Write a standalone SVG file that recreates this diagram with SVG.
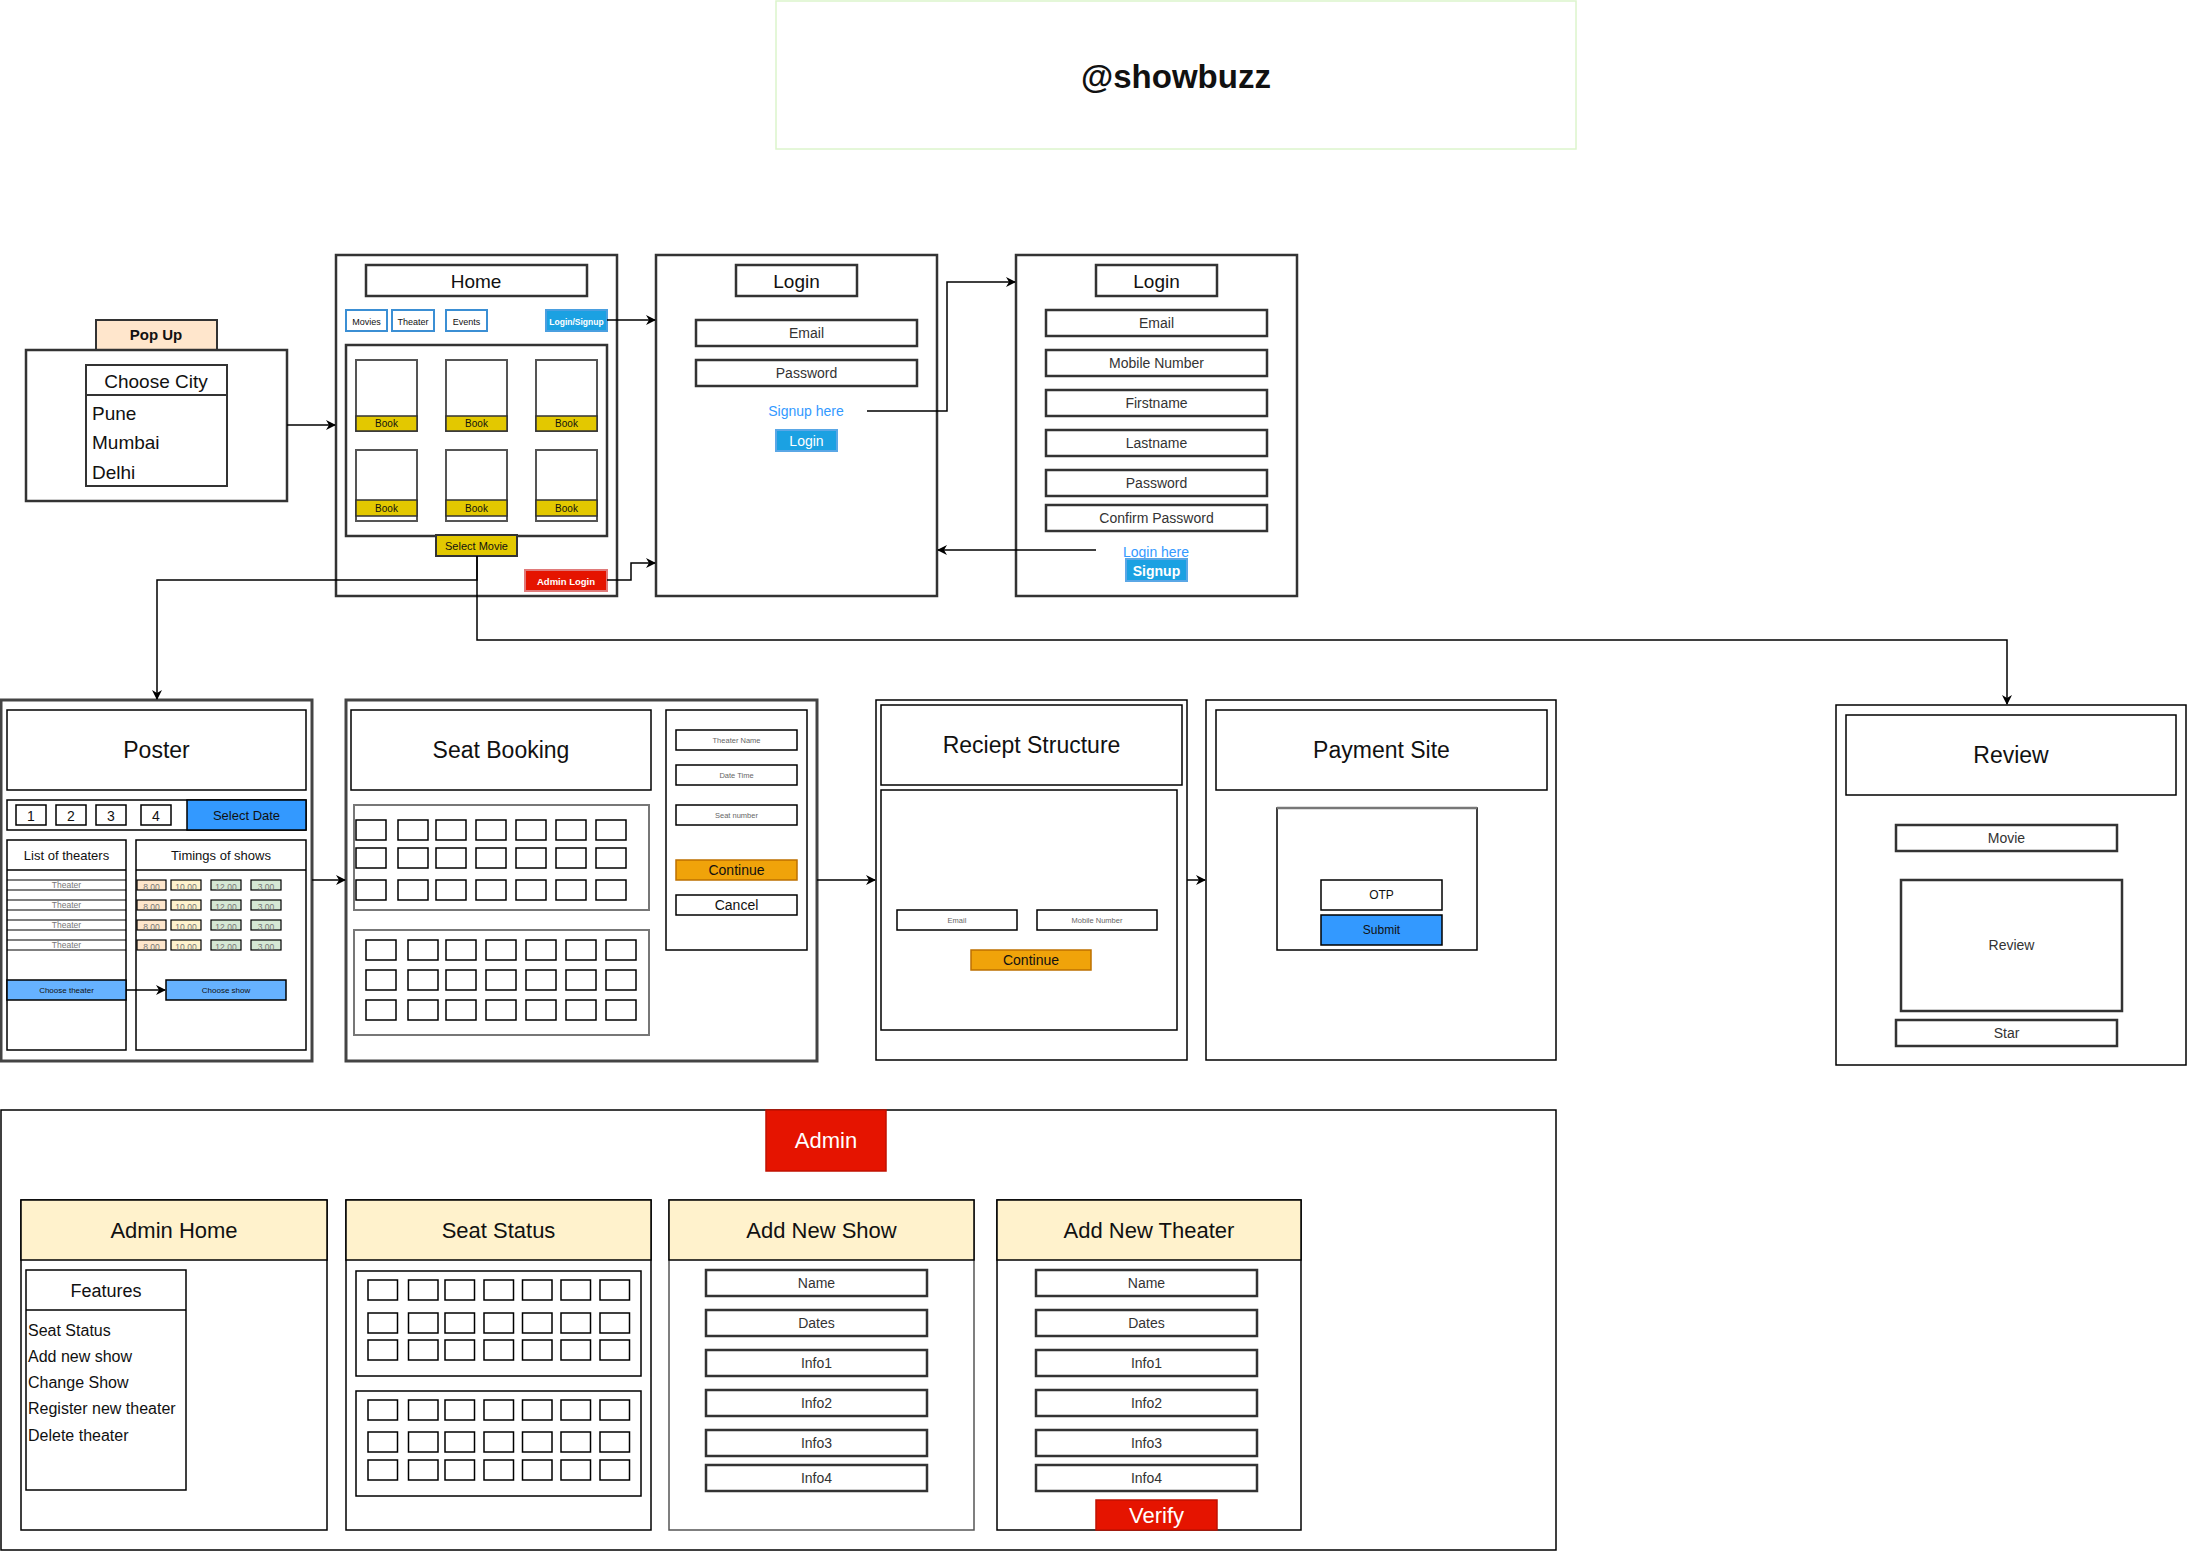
<svg xmlns="http://www.w3.org/2000/svg" width="2187" height="1552" viewBox="0 0 2187 1552">
<defs>
<marker id="arr" viewBox="0 0 10 10" refX="9" refY="5" markerWidth="10" markerHeight="10" markerUnits="userSpaceOnUse" orient="auto">
<path d="M0,0 L10,5 L0,10 L3,5 z" fill="#000"/>
</marker>
<style>
text{font-family:"Liberation Sans",Arial,sans-serif;text-anchor:middle;fill:#111}
.frame{fill:#fff;stroke:#333;stroke-width:2.5}
.thin{fill:#fff;stroke:#000;stroke-width:1.5}
.fld{fill:#fff;stroke:#333;stroke-width:2.5}
.seat{fill:#fff;stroke:#000;stroke-width:1.5}
.grp{fill:#fff;stroke:#777;stroke-width:2}
.conn{fill:none;stroke:#000;stroke-width:1.5}
.hdr{fill:#fff2cc;stroke:#000;stroke-width:1.5}
.book{fill:#e3c800;stroke:#333;stroke-width:1.5}
.nav{fill:#fff;stroke:#3b8fd4;stroke-width:2}
.orange{fill:#f0a30a;stroke:#bd7000;stroke-width:1.5}
.lb{fill:#66b2ff;stroke:#000;stroke-width:1.5}
.red{fill:#e51400;stroke:#c01000;stroke-width:1.5}
.t14{font-size:14px;fill:#333}
.t23{font-size:23px}
.t22{font-size:22px}
.tiny{font-size:7.5px;fill:#666}
.tm{font-size:8.5px;fill:#777}
.link{font-size:14px;fill:#3399ff}
.w{fill:#fff}
</style>
</defs>
<rect width="2187" height="1552" fill="#fff"/>

<g id="title">
<rect x="776" y="1" width="800" height="148" fill="#fff" stroke="#dcf5cc" stroke-width="1.5"/>
<text x="1176" y="88" font-size="33" font-weight="bold" fill="#000">@showbuzz</text>
</g>

<g id="popup">
<rect x="96" y="320" width="121" height="30" fill="#ffe6cc" stroke="#333" stroke-width="2"/>
<text x="156" y="340" font-size="15" font-weight="bold">Pop Up</text>
<rect class="frame" x="26" y="350" width="261" height="151"/>
<rect x="86" y="365" width="141" height="121" fill="#fff" stroke="#333" stroke-width="2"/>
<line x1="86" y1="395" x2="227" y2="395" stroke="#333" stroke-width="2"/>
<text x="156" y="388" font-size="19" fill="#222">Choose City</text>
<text x="92" y="420" font-size="19" style="text-anchor:start">Pune</text>
<text x="92" y="449" font-size="19" style="text-anchor:start">Mumbai</text>
<text x="92" y="479" font-size="19" style="text-anchor:start">Delhi</text>
</g>

<g id="home">
<rect class="frame" x="336" y="255" width="281" height="341"/>
<rect class="fld" x="366" y="265" width="221" height="31"/>
<text x="476" y="288" font-size="19">Home</text>
<rect class="nav" x="346" y="310" width="41" height="21"/>
<text x="366.5" y="325" font-size="9" fill="#333">Movies</text>
<rect class="nav" x="392" y="310" width="42" height="21"/>
<text x="413" y="325" font-size="9" fill="#333">Theater</text>
<rect class="nav" x="446" y="310" width="41" height="21"/>
<text x="466.5" y="325" font-size="9" fill="#333">Events</text>
<rect x="546" y="310" width="61" height="21" fill="#1ba1e2" stroke="#4a9fe0" stroke-width="2"/>
<text x="576.5" y="325" font-size="8.5" font-weight="bold" class="w">Login/Signup</text>
<rect class="fld" x="346" y="345" width="261" height="191"/>
<g id="cards">
<rect x="356" y="360" width="61" height="71" fill="#fff" stroke="#555" stroke-width="2"/>
<rect class="book" x="356" y="416" width="61" height="15"/><text x="386.5" y="427" font-size="10">Book</text>
<rect x="446" y="360" width="61" height="71" fill="#fff" stroke="#555" stroke-width="2"/>
<rect class="book" x="446" y="416" width="61" height="15"/><text x="476.5" y="427" font-size="10">Book</text>
<rect x="536" y="360" width="61" height="71" fill="#fff" stroke="#555" stroke-width="2"/>
<rect class="book" x="536" y="416" width="61" height="15"/><text x="566.5" y="427" font-size="10">Book</text>
<rect x="356" y="450" width="61" height="71" fill="#fff" stroke="#555" stroke-width="2"/>
<rect class="book" x="356" y="500" width="61" height="16"/><text x="386.5" y="512" font-size="10">Book</text>
<rect x="446" y="450" width="61" height="71" fill="#fff" stroke="#555" stroke-width="2"/>
<rect class="book" x="446" y="500" width="61" height="16"/><text x="476.5" y="512" font-size="10">Book</text>
<rect x="536" y="450" width="61" height="71" fill="#fff" stroke="#555" stroke-width="2"/>
<rect class="book" x="536" y="500" width="61" height="16"/><text x="566.5" y="512" font-size="10">Book</text>
</g>
<rect x="436" y="535" width="81" height="21" fill="#e3c800" stroke="#333" stroke-width="2"/>
<text x="476.5" y="549.5" font-size="11">Select Movie</text>
<rect x="525" y="570" width="82" height="21" fill="#e51400" stroke="#e07a7a" stroke-width="2"/>
<text x="566" y="585" font-size="9.5" font-weight="bold" class="w">Admin Login</text>
</g>

<g id="login">
<rect class="frame" x="656" y="255" width="281" height="341"/>
<rect class="fld" x="736" y="265" width="121" height="31"/>
<text x="796.5" y="288" font-size="19">Login</text>
<rect class="fld" x="696" y="320" width="221" height="26"/>
<text class="t14" x="806.5" y="338">Email</text>
<rect class="fld" x="696" y="360" width="221" height="26"/>
<text class="t14" x="806.5" y="378">Password</text>
<text class="link" x="806" y="416">Signup here</text>
<rect x="776" y="430" width="61" height="21" fill="#1ba1e2" stroke="#5aa7e6" stroke-width="2"/>
<text x="806.5" y="446" font-size="14" class="w">Login</text>
</g>

<g id="signup">
<rect class="frame" x="1016" y="255" width="281" height="341"/>
<rect class="fld" x="1096" y="265" width="121" height="31"/>
<text x="1156.5" y="288" font-size="19">Login</text>
<rect class="fld" x="1046" y="310" width="221" height="26"/>
<text class="t14" x="1156.5" y="328">Email</text>
<rect class="fld" x="1046" y="350" width="221" height="26"/>
<text class="t14" x="1156.5" y="368">Mobile Number</text>
<rect class="fld" x="1046" y="390" width="221" height="26"/>
<text class="t14" x="1156.5" y="408">Firstname</text>
<rect class="fld" x="1046" y="430" width="221" height="26"/>
<text class="t14" x="1156.5" y="448">Lastname</text>
<rect class="fld" x="1046" y="470" width="221" height="26"/>
<text class="t14" x="1156.5" y="488">Password</text>
<rect class="fld" x="1046" y="505" width="221" height="26"/>
<text class="t14" x="1156.5" y="523">Confirm Password</text>
<text class="link" x="1156" y="557">Login here</text>
<rect x="1126" y="559" width="61" height="22" fill="#1ba1e2" stroke="#5aa7e6" stroke-width="2"/>
<text x="1156.5" y="576" font-size="14" font-weight="bold" class="w">Signup</text>
</g>

<g id="poster">
<rect x="1" y="700" width="311" height="361" fill="#fff" stroke="#444" stroke-width="3"/>
<rect class="thin" x="7" y="710" width="299" height="80"/>
<text class="t23" x="156.5" y="758">Poster</text>
<rect class="thin" x="7" y="800" width="299" height="30"/>
<rect class="thin" x="16" y="805" width="30" height="20"/><text x="31" y="821" font-size="14" fill="#333">1</text>
<rect class="thin" x="56" y="805" width="30" height="20"/><text x="71" y="821" font-size="14" fill="#333">2</text>
<rect class="thin" x="96" y="805" width="30" height="20"/><text x="111" y="821" font-size="14" fill="#333">3</text>
<rect class="thin" x="141" y="805" width="30" height="20"/><text x="156" y="821" font-size="14" fill="#333">4</text>
<rect x="187" y="800" width="119" height="30" fill="#3399ff" stroke="#000" stroke-width="1.5"/>
<text x="246.5" y="820" font-size="13" fill="#222">Select Date</text>
<rect class="thin" x="7" y="840" width="119" height="210"/>
<line x1="7" y1="870" x2="126" y2="870" stroke="#000" stroke-width="1.5"/>
<text x="66.5" y="860" font-size="13" fill="#333">List of theaters</text>
<g stroke="#000" stroke-width="1.2">
<line x1="7" y1="880" x2="126" y2="880"/><line x1="7" y1="890" x2="126" y2="890"/>
<line x1="7" y1="900" x2="126" y2="900"/><line x1="7" y1="910" x2="126" y2="910"/>
<line x1="7" y1="920" x2="126" y2="920"/><line x1="7" y1="930" x2="126" y2="930"/>
<line x1="7" y1="940" x2="126" y2="940"/><line x1="7" y1="950" x2="126" y2="950"/>
</g>
<text class="tm" x="66.5" y="888">Theater</text>
<text class="tm" x="66.5" y="908">Theater</text>
<text class="tm" x="66.5" y="928">Theater</text>
<text class="tm" x="66.5" y="948">Theater</text>
<rect class="lb" x="7" y="980" width="119" height="20"/>
<text x="66.5" y="993" font-size="8" fill="#333">Choose theater</text>
<rect class="thin" x="136" y="840" width="170" height="210"/>
<line x1="136" y1="870" x2="306" y2="870" stroke="#000" stroke-width="1.5"/>
<text x="221" y="860" font-size="13" fill="#333">Timings of shows</text>
<g stroke="#000" stroke-width="1.2">
<rect x="137" y="880" width="29" height="10" fill="#ffe6cc"/><rect x="171" y="880" width="30" height="10" fill="#fff2cc"/><rect x="211" y="880" width="30" height="10" fill="#d5e8d4"/><rect x="251" y="880" width="30" height="10" fill="#d5e8d4"/>
<rect x="137" y="900" width="29" height="10" fill="#ffe6cc"/><rect x="171" y="900" width="30" height="10" fill="#fff2cc"/><rect x="211" y="900" width="30" height="10" fill="#d5e8d4"/><rect x="251" y="900" width="30" height="10" fill="#d5e8d4"/>
<rect x="137" y="920" width="29" height="10" fill="#ffe6cc"/><rect x="171" y="920" width="30" height="10" fill="#fff2cc"/><rect x="211" y="920" width="30" height="10" fill="#d5e8d4"/><rect x="251" y="920" width="30" height="10" fill="#d5e8d4"/>
<rect x="137" y="940" width="29" height="10" fill="#ffe6cc"/><rect x="171" y="940" width="30" height="10" fill="#fff2cc"/><rect x="211" y="940" width="30" height="10" fill="#d5e8d4"/><rect x="251" y="940" width="30" height="10" fill="#d5e8d4"/>
</g>
<text class="tm" x="151.5" y="890">8.00</text><text class="tm" x="186" y="890">10.00</text><text class="tm" x="226" y="890">12.00</text><text class="tm" x="266" y="890">3.00</text>
<text class="tm" x="151.5" y="910">8.00</text><text class="tm" x="186" y="910">10.00</text><text class="tm" x="226" y="910">12.00</text><text class="tm" x="266" y="910">3.00</text>
<text class="tm" x="151.5" y="930">8.00</text><text class="tm" x="186" y="930">10.00</text><text class="tm" x="226" y="930">12.00</text><text class="tm" x="266" y="930">3.00</text>
<text class="tm" x="151.5" y="950">8.00</text><text class="tm" x="186" y="950">10.00</text><text class="tm" x="226" y="950">12.00</text><text class="tm" x="266" y="950">3.00</text>
<rect class="lb" x="166" y="980" width="120" height="20"/>
<text x="226" y="993" font-size="8" fill="#333">Choose show</text>
</g>

<g id="seat-booking">
<rect x="346" y="700" width="471" height="361" fill="#fff" stroke="#444" stroke-width="3"/>
<rect class="thin" x="351" y="710" width="300" height="80"/>
<text class="t23" x="501" y="758">Seat Booking</text>
<rect class="grp" x="354" y="805" width="295" height="105"/>
<g id="seats1">
<rect class="seat" x="356" y="820" width="30" height="20"/><rect class="seat" x="398" y="820" width="30" height="20"/><rect class="seat" x="436" y="820" width="30" height="20"/><rect class="seat" x="476" y="820" width="30" height="20"/><rect class="seat" x="516" y="820" width="30" height="20"/><rect class="seat" x="556" y="820" width="30" height="20"/><rect class="seat" x="596" y="820" width="30" height="20"/>
<rect class="seat" x="356" y="848" width="30" height="20"/><rect class="seat" x="398" y="848" width="30" height="20"/><rect class="seat" x="436" y="848" width="30" height="20"/><rect class="seat" x="476" y="848" width="30" height="20"/><rect class="seat" x="516" y="848" width="30" height="20"/><rect class="seat" x="556" y="848" width="30" height="20"/><rect class="seat" x="596" y="848" width="30" height="20"/>
<rect class="seat" x="356" y="880" width="30" height="20"/><rect class="seat" x="398" y="880" width="30" height="20"/><rect class="seat" x="436" y="880" width="30" height="20"/><rect class="seat" x="476" y="880" width="30" height="20"/><rect class="seat" x="516" y="880" width="30" height="20"/><rect class="seat" x="556" y="880" width="30" height="20"/><rect class="seat" x="596" y="880" width="30" height="20"/>
</g>
<rect class="grp" x="354" y="930" width="295" height="105"/>
<g id="seats2">
<rect class="seat" x="366" y="940" width="30" height="20"/><rect class="seat" x="408" y="940" width="30" height="20"/><rect class="seat" x="446" y="940" width="30" height="20"/><rect class="seat" x="486" y="940" width="30" height="20"/><rect class="seat" x="526" y="940" width="30" height="20"/><rect class="seat" x="566" y="940" width="30" height="20"/><rect class="seat" x="606" y="940" width="30" height="20"/>
<rect class="seat" x="366" y="970" width="30" height="20"/><rect class="seat" x="408" y="970" width="30" height="20"/><rect class="seat" x="446" y="970" width="30" height="20"/><rect class="seat" x="486" y="970" width="30" height="20"/><rect class="seat" x="526" y="970" width="30" height="20"/><rect class="seat" x="566" y="970" width="30" height="20"/><rect class="seat" x="606" y="970" width="30" height="20"/>
<rect class="seat" x="366" y="1000" width="30" height="20"/><rect class="seat" x="408" y="1000" width="30" height="20"/><rect class="seat" x="446" y="1000" width="30" height="20"/><rect class="seat" x="486" y="1000" width="30" height="20"/><rect class="seat" x="526" y="1000" width="30" height="20"/><rect class="seat" x="566" y="1000" width="30" height="20"/><rect class="seat" x="606" y="1000" width="30" height="20"/>
</g>
<rect class="thin" x="666" y="710" width="141" height="240"/>
<rect class="thin" x="676" y="730" width="121" height="20"/><text class="tiny" x="736.5" y="743">Theater Name</text>
<rect class="thin" x="676" y="765" width="121" height="20"/><text class="tiny" x="736.5" y="778">Date Time</text>
<rect class="thin" x="676" y="805" width="121" height="20"/><text class="tiny" x="736.5" y="818">Seat number</text>
<rect class="orange" x="676" y="860" width="121" height="20"/><text x="736.5" y="875" font-size="14" fill="#222">Continue</text>
<rect class="thin" x="676" y="895" width="121" height="20"/><text x="736.5" y="910" font-size="14" fill="#333">Cancel</text>
</g>

<g id="receipt">
<rect class="thin" x="876" y="700" width="311" height="360"/>
<rect class="thin" x="881" y="705" width="301" height="80"/>
<text class="t23" x="1031.5" y="753">Reciept Structure</text>
<rect class="thin" x="881" y="790" width="296" height="240"/>
<rect class="thin" x="897" y="910" width="120" height="20"/><text class="tiny" x="957" y="923">Email</text>
<rect class="thin" x="1037" y="910" width="120" height="20"/><text class="tiny" x="1097" y="923">Mobile Number</text>
<rect class="orange" x="971" y="950" width="120" height="20"/><text x="1031" y="965" font-size="14" fill="#222">Continue</text>
</g>

<g id="payment">
<rect class="thin" x="1206" y="700" width="350" height="360"/>
<rect class="thin" x="1216" y="710" width="331" height="80"/>
<text class="t23" x="1381.5" y="758">Payment Site</text>
<rect class="thin" x="1277" y="808" width="200" height="142"/>
<line x1="1277" y1="808" x2="1477" y2="808" stroke="#777" stroke-width="2.5"/>
<rect class="thin" x="1321" y="880" width="121" height="30"/><text x="1381.5" y="899" font-size="12" fill="#222">OTP</text>
<rect x="1321" y="915" width="121" height="30" fill="#3399ff" stroke="#000" stroke-width="1.5"/><text x="1381.5" y="934" font-size="12" fill="#111">Submit</text>
</g>

<g id="review">
<rect class="thin" x="1836" y="705" width="350" height="360"/>
<rect class="thin" x="1846" y="715" width="330" height="80"/>
<text class="t23" x="2011" y="763">Review</text>
<rect class="fld" x="1896" y="825" width="221" height="26"/><text class="t14" x="2006.5" y="843">Movie</text>
<rect class="fld" x="1901" y="880" width="221" height="131"/><text class="t14" x="2011.5" y="950">Review</text>
<rect class="fld" x="1896" y="1020" width="221" height="26"/><text class="t14" x="2006.5" y="1038">Star</text>
</g>

<g id="admin">
<rect class="thin" x="1" y="1110" width="1555" height="440"/>
<rect class="red" x="766" y="1110" width="120" height="61"/>
<text class="t22 w" x="826" y="1148">Admin</text>
</g>

<g id="admin-home">
<rect class="thin" x="21" y="1200" width="306" height="330"/>
<rect class="hdr" x="21" y="1200" width="306" height="60"/>
<text class="t22" x="174" y="1238">Admin Home</text>
<rect class="thin" x="26" y="1270" width="160" height="220"/>
<line x1="26" y1="1310" x2="186" y2="1310" stroke="#000" stroke-width="1.5"/>
<text x="106" y="1297" font-size="18" fill="#222">Features</text>
<g font-size="16" fill="#222">
<text x="28" y="1336" style="text-anchor:start">Seat Status</text>
<text x="28" y="1362" style="text-anchor:start">Add new show</text>
<text x="28" y="1388" style="text-anchor:start">Change Show</text>
<text x="28" y="1414" style="text-anchor:start">Register new theater</text>
<text x="28" y="1441" style="text-anchor:start">Delete theater</text>
</g>
</g>

<g id="seat-status">
<rect class="thin" x="346" y="1200" width="305" height="330"/>
<rect class="hdr" x="346" y="1200" width="305" height="60"/>
<text class="t22" x="498.5" y="1238">Seat Status</text>
<rect class="thin" x="356" y="1271" width="285" height="105"/>
<rect class="thin" x="356" y="1391" width="285" height="105"/>
<g id="status-seats">
<rect class="seat" x="368" y="1280" width="29.5" height="20"/><rect class="seat" x="408.5" y="1280" width="29.5" height="20"/><rect class="seat" x="445" y="1280" width="29.5" height="20"/><rect class="seat" x="484" y="1280" width="29.5" height="20"/><rect class="seat" x="522.5" y="1280" width="29.5" height="20"/><rect class="seat" x="561" y="1280" width="29.5" height="20"/><rect class="seat" x="600" y="1280" width="29.5" height="20"/>
<rect class="seat" x="368" y="1313" width="29.5" height="20"/><rect class="seat" x="408.5" y="1313" width="29.5" height="20"/><rect class="seat" x="445" y="1313" width="29.5" height="20"/><rect class="seat" x="484" y="1313" width="29.5" height="20"/><rect class="seat" x="522.5" y="1313" width="29.5" height="20"/><rect class="seat" x="561" y="1313" width="29.5" height="20"/><rect class="seat" x="600" y="1313" width="29.5" height="20"/>
<rect class="seat" x="368" y="1340" width="29.5" height="20"/><rect class="seat" x="408.5" y="1340" width="29.5" height="20"/><rect class="seat" x="445" y="1340" width="29.5" height="20"/><rect class="seat" x="484" y="1340" width="29.5" height="20"/><rect class="seat" x="522.5" y="1340" width="29.5" height="20"/><rect class="seat" x="561" y="1340" width="29.5" height="20"/><rect class="seat" x="600" y="1340" width="29.5" height="20"/>
<rect class="seat" x="368" y="1400" width="29.5" height="20"/><rect class="seat" x="408.5" y="1400" width="29.5" height="20"/><rect class="seat" x="445" y="1400" width="29.5" height="20"/><rect class="seat" x="484" y="1400" width="29.5" height="20"/><rect class="seat" x="522.5" y="1400" width="29.5" height="20"/><rect class="seat" x="561" y="1400" width="29.5" height="20"/><rect class="seat" x="600" y="1400" width="29.5" height="20"/>
<rect class="seat" x="368" y="1432" width="29.5" height="20"/><rect class="seat" x="408.5" y="1432" width="29.5" height="20"/><rect class="seat" x="445" y="1432" width="29.5" height="20"/><rect class="seat" x="484" y="1432" width="29.5" height="20"/><rect class="seat" x="522.5" y="1432" width="29.5" height="20"/><rect class="seat" x="561" y="1432" width="29.5" height="20"/><rect class="seat" x="600" y="1432" width="29.5" height="20"/>
<rect class="seat" x="368" y="1460" width="29.5" height="20"/><rect class="seat" x="408.5" y="1460" width="29.5" height="20"/><rect class="seat" x="445" y="1460" width="29.5" height="20"/><rect class="seat" x="484" y="1460" width="29.5" height="20"/><rect class="seat" x="522.5" y="1460" width="29.5" height="20"/><rect class="seat" x="561" y="1460" width="29.5" height="20"/><rect class="seat" x="600" y="1460" width="29.5" height="20"/>
</g>
</g>

<g id="add-new-show">
<rect x="669" y="1200" width="305" height="330" fill="#fff" stroke="#555" stroke-width="1.5"/>
<rect class="hdr" x="669" y="1200" width="305" height="60"/>
<text class="t22" x="821.5" y="1238">Add New Show</text>
<rect class="fld" x="706" y="1270" width="221" height="26"/><text class="t14" x="816.5" y="1288">Name</text>
<rect class="fld" x="706" y="1310" width="221" height="26"/><text class="t14" x="816.5" y="1328">Dates</text>
<rect class="fld" x="706" y="1350" width="221" height="26"/><text class="t14" x="816.5" y="1368">Info1</text>
<rect class="fld" x="706" y="1390" width="221" height="26"/><text class="t14" x="816.5" y="1408">Info2</text>
<rect class="fld" x="706" y="1430" width="221" height="26"/><text class="t14" x="816.5" y="1448">Info3</text>
<rect class="fld" x="706" y="1465" width="221" height="26"/><text class="t14" x="816.5" y="1483">Info4</text>
</g>

<g id="add-new-theater">
<rect class="thin" x="997" y="1200" width="304" height="330"/>
<rect class="hdr" x="997" y="1200" width="304" height="60"/>
<text class="t22" x="1149" y="1238">Add New Theater</text>
<rect class="fld" x="1036" y="1270" width="221" height="26"/><text class="t14" x="1146.5" y="1288">Name</text>
<rect class="fld" x="1036" y="1310" width="221" height="26"/><text class="t14" x="1146.5" y="1328">Dates</text>
<rect class="fld" x="1036" y="1350" width="221" height="26"/><text class="t14" x="1146.5" y="1368">Info1</text>
<rect class="fld" x="1036" y="1390" width="221" height="26"/><text class="t14" x="1146.5" y="1408">Info2</text>
<rect class="fld" x="1036" y="1430" width="221" height="26"/><text class="t14" x="1146.5" y="1448">Info3</text>
<rect class="fld" x="1036" y="1465" width="221" height="26"/><text class="t14" x="1146.5" y="1483">Info4</text>
<rect class="red" x="1096" y="1500" width="121" height="30"/>
<text class="t22 w" x="1156.5" y="1523">Verify</text>
</g>

<g id="connectors">
<path class="conn" d="M287,425 H335" marker-end="url(#arr)"/>
<path class="conn" d="M607,320 H655" marker-end="url(#arr)"/>
<path class="conn" d="M607,580 H631 V563 H655" marker-end="url(#arr)"/>
<path class="conn" d="M867,411 H947 V282 H1015" marker-end="url(#arr)"/>
<path class="conn" d="M1096,550 H938" marker-end="url(#arr)"/>
<path class="conn" d="M477,556 V580 H157 V699" marker-end="url(#arr)"/>
<path class="conn" d="M477,556 V640 H2007 V704" marker-end="url(#arr)"/>
<path class="conn" d="M312,880 H345" marker-end="url(#arr)"/>
<path class="conn" d="M126,990 H165" marker-end="url(#arr)"/>
<path class="conn" d="M817,880 H875" marker-end="url(#arr)"/>
<path class="conn" d="M1187,880 H1205" marker-end="url(#arr)"/>
</g>
</svg>
